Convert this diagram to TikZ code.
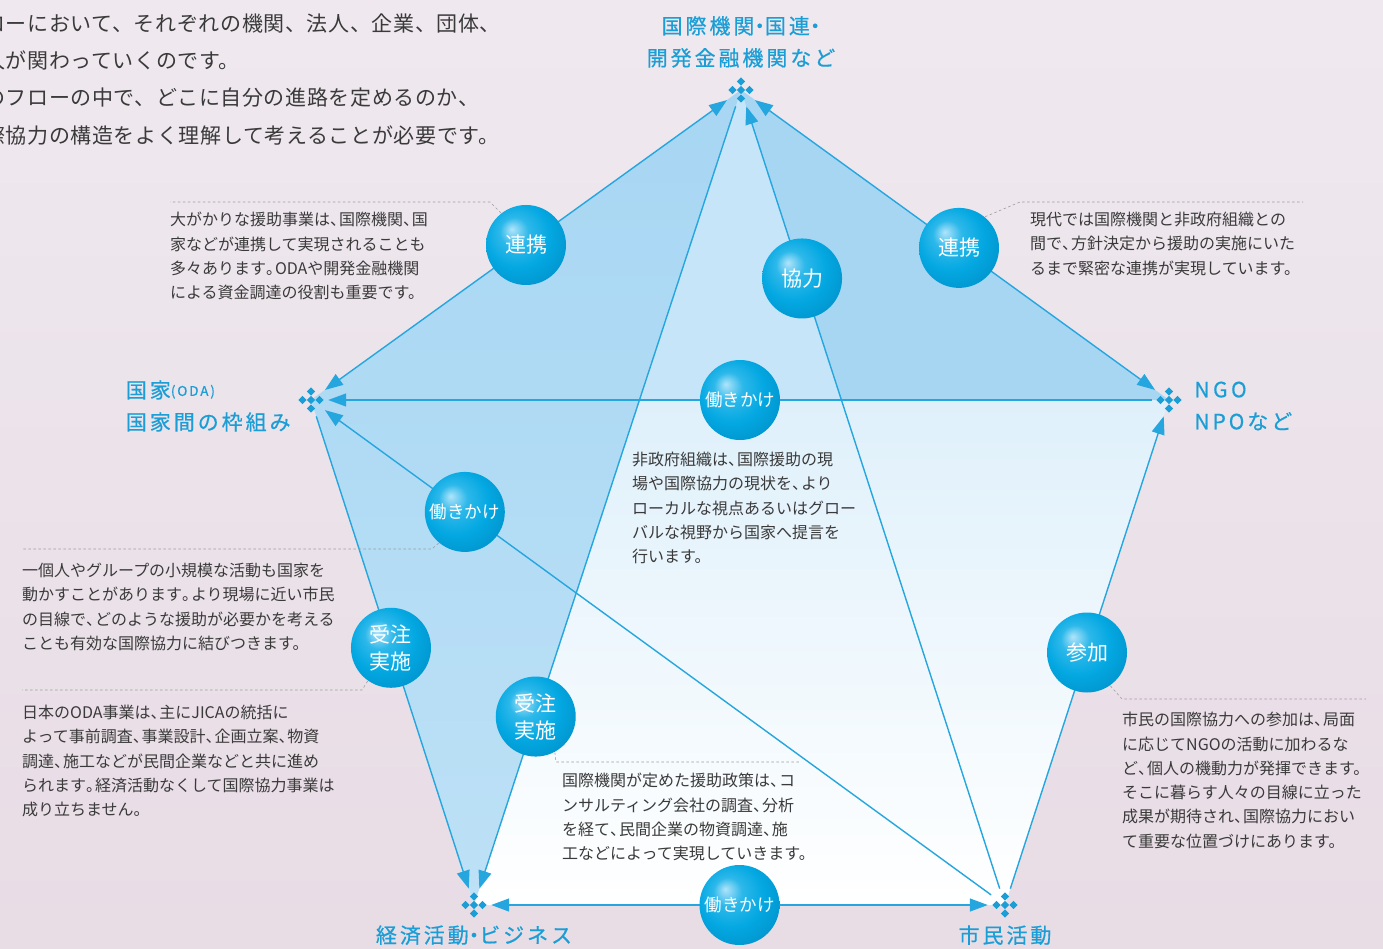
\documentclass[tikz,border=0pt]{standalone}
\usepackage{fontspec}
\setmainfont{Noto Sans CJK JP}
\newfontfamily\hubfont[LetterSpace=14,FakeBold=0.6]{Noto Sans CJK JP}
\newfontfamily\introfont[LetterSpace=3]{Noto Sans CJK JP}
\usetikzlibrary{arrows.meta,positioning,calc}

\definecolor{paper}{HTML}{EFE9EF}
\definecolor{paperdark}{HTML}{E8DCE5}
\definecolor{flowblue}{HTML}{26A6DE}
\definecolor{hubblue}{HTML}{1B9ED6}
\definecolor{notegray}{HTML}{3A3A3A}
\definecolor{skyA}{HTML}{A7D6F3}
\definecolor{skyAlow}{HTML}{BDE1F6}
\definecolor{skyB}{HTML}{C6E5F8}
\definecolor{skyC}{HTML}{CBE7F8}
\definecolor{skyD}{HTML}{E6F3FB}
\definecolor{bubblehi}{HTML}{B0E4FA}
\definecolor{bubblemid}{HTML}{2DB8EA}
\definecolor{bubblebase}{HTML}{04A8E2}
\definecolor{bubbleedge}{HTML}{0093CC}

\pgfdeclareradialshading{bubble}{\pgfpoint{-9bp}{10bp}}{%
  color(0bp)=(bubblehi); color(9bp)=(bubblemid); color(20bp)=(bubblebase);
  color(33bp)=(bubbleedge); color(50bp)=(bubbleedge)}

% narrow punctuation as in the print
\newcommand\jc{\makebox[.55em][l]{、}}
\newcommand\jp{\makebox[.55em][l]{。}}
\newcommand\jd{\makebox[.5em][c]{・}}

\tikzset{
  hub/.style={circle,minimum size=34pt,inner sep=0pt},
  hublabel/.style={font=\hubfont\fontsize{21}{32}\selectfont,text=hubblue,inner sep=0pt},
  bubble/.style={circle,minimum size=80pt,inner sep=0pt,shading=bubble,text=white,
    align=center,font=\fontsize{21}{27}\selectfont},
  small bubble/.style={bubble,font=\fontsize{17.5}{20}\selectfont},
  flow/.style={draw=flowblue,line width=1.4pt,-{Triangle[length=18pt,width=13pt]}},
  twoway/.style={flow,{Triangle[length=18pt,width=13pt]}-{Triangle[length=18pt,width=13pt]}},
  note/.style={anchor=north west,align=left,inner sep=0pt,text=notegray,
    font=\fontsize{16}{24.3}\selectfont},
  leader/.style={draw=gray!75,line width=0.6pt,dash pattern=on 2.5pt off 2.5pt},
}

\begin{document}
\begin{tikzpicture}[x=1pt,y=-1pt]
\useasboundingbox (0,0) rectangle (1383,949);
\shade[top color=paper,bottom color=paperdark] (0,0) rectangle (1383,949);

% the five actors
\node[hub] (kokusai) at (741,90) {};
\node[hub] (kokka)   at (311,400) {};
\node[hub] (ngo)     at (1169,400) {};
\node[hub] (keizai)  at (474,905) {};
\node[hub] (shimin)  at (1005,905) {};
\coordinate (kink) at ($(kokusai.center)!0.38!(shimin.center)$);

% areas
\shade[top color=skyC,middle color=skyD,bottom color=white]
  (kokusai.center) -- (ngo.center) -- (shimin.center) -- (keizai.center) -- (kokka.center) -- cycle;
\fill[skyB] (kokusai.center) -- (ngo.center) -- (kokka.center) -- cycle;
\shade[top color=skyA,bottom color=skyAlow] (kokusai.center) -- (kokka.center) -- (keizai.center) -- cycle;
\fill[skyA] (kokusai.center) -- (ngo.center) -- (kink) -- cycle;

% flows
\draw[twoway] (kokusai) -- node[bubble,pos=.5] (renkeiL) {連携} (kokka);
\draw[twoway] (kokusai) -- node[bubble,pos=.51] (renkeiR) {連携} (ngo);
\draw[flow] (shimin) -- node[bubble,pos=.78] (kyoryoku) {協力} (kokusai);
\draw[flow] (kokusai) -- node[bubble,pos=.78] (juchuC) {受注\\実施} (keizai);
\draw[flow] (kokka) -- node[bubble,pos=.49] (juchuL) {受注\\実施} (keizai);
\draw[flow] (ngo) -- node[small bubble,pos=.5] (hatarakiC) {働きかけ} (kokka);
\draw[flow] (shimin) -- node[small bubble,pos=.79] (hatarakiL) {働きかけ} (kokka);
\draw[flow] (shimin) -- node[bubble,pos=.5] (sanka) {参加} (ngo);
\draw[twoway] (keizai) -- node[small bubble,pos=.5] (hatarakiB) {働きかけ} (shimin);

% markers
\foreach \v in {kokusai,kokka,ngo,keizai,shimin}
  \foreach \dx/\dy in {0/-8.5,-8.5/0,0/0,8.5/0,0/8.5}
    \fill[hubblue] ($(\v.center)+(\dx,\dy-4.2)$) -- ++(4.2,4.2) -- ++(-4.2,4.2) -- ++(-4.2,-4.2) -- cycle;

% actor labels
\node[hublabel,above=5pt of kokusai,align=center] (kokusaiLbl) {国際機関\jd 国連\jd\\開発金融機関など};
\node[hublabel,left=3pt of kokka,yshift=-6pt,align=left] (kokkaLbl) {国家\raisebox{2pt}{\fontsize{13.5}{14}\selectfont(ODA)}\\国家間の枠組み};
\node[hublabel,right=8pt of ngo,yshift=-6pt,align=left] (ngoLbl) {N\,G\,O\\NPOなど};
\node[hublabel,below=3pt of keizai] (keizaiLbl) {経済活動\jd ビジネス};
\node[hublabel,below=3pt of shimin] (shiminLbl) {市民活動};

% intro
\node[note,font=\introfont\fontsize{21}{37.3}\selectfont] (intro) at (-16,13.5)
  {ローにおいて、それぞれの機関、法人、企業、団体、\\人が関わっていくのです。\\のフローの中で、どこに自分の進路を定めるのか、\\際協力の構造をよく理解して考えることが必要です。};

% notes
\node[note] (noteRenkeiL) at (170,212)
  {大がかりな援助事業は\jc 国際機関\jc 国\\家などが連携して実現されることも\\多々あります\jp ODAや開発金融機関\\による資金調達の役割も重要です。};
\node[note] (noteRenkeiR) at (1030,212)
  {現代では国際機関と非政府組織との\\間で\jc 方針決定から援助の実施にいた\\るまで緊密な連携が実現しています。};
\node[note] (noteHatarakiC) at (632,452)
  {非政府組織は\jc 国際援助の現\\場や国際協力の現状を\jc より\\ローカルな視点あるいはグロー\\バルな視野から国家へ提言を\\行います。};
\node[note] (noteHatarakiL) at (22,563)
  {一個人やグループの小規模な活動も国家を\\動かすことがあります\jp より現場に近い市民\\の目線で\jc どのような援助が必要かを考える\\ことも有効な国際協力に結びつきます。};
\node[note] (noteJuchuL) at (22,705)
  {日本のODA事業は\jc 主にJICAの統括に\\よって事前調査\jc 事業設計\jc 企画立案\jc 物資\\調達\jc 施工などが民間企業などと共に進め\\られます\jp 経済活動なくして国際協力事業は\\成り立ちません。};
\node[note] (noteSanka) at (1122,712)
  {市民の国際協力への参加は\jc 局面\\に応じてNGOの活動に加わるな\\ど\jc 個人の機動力が発揮できます。\\そこに暮らす人々の目線に立った\\成果が期待され\jc 国際協力におい\\て重要な位置づけにあります。};
\node[note] (noteJuchuC) at (562,773)
  {国際機関が定めた援助政策は\jc コ\\ンサルティング会社の調査\jc 分析\\を経て\jc 民間企業の物資調達\jc 施\\工などによって実現していきます。};

% leaders
\draw[leader] (renkeiL.128) -- (490,202) -- (170,202);
\draw[leader] (renkeiR.50) -- (1020,202) -- (1303,202);
\draw[leader] (hatarakiL.230) -- (432,549) -- (22,549);
\draw[leader] (juchuL.235) -- (362,690) -- (22,690);
\draw[leader] (juchuC.-62) -- (556,762) -- (800,762);
\draw[leader] (sanka.-55) -- (1122,699) -- (1366,699);
\end{tikzpicture}
\end{document}
